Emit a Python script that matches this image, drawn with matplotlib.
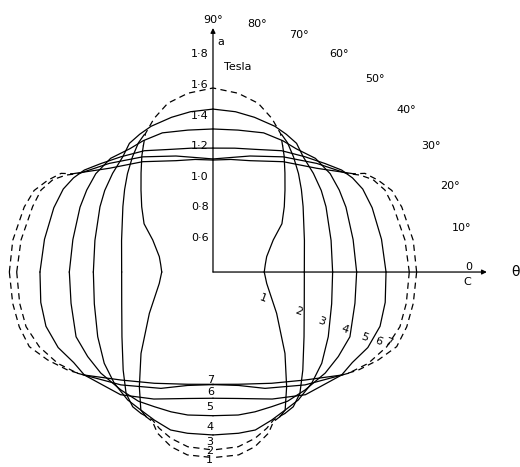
import numpy as np
import matplotlib
matplotlib.use("Agg")
import matplotlib.pyplot as plt

# field (Tesla) against angle theta from the c axis, read per quadrant;
# the left half of the diagram is the mirror image of the right half
top_theta = [
    [0, 8, 16, 28, 35, 42.5, 48.7, 54, 58.5, 61, 64, 69, 75, 82, 90],
    [0, 19, 36, 43, 49, 55, 60, 63.5],
    [0, 15, 30, 37, 44.5, 52, 57, 62, 67, 75, 82, 90],
    [0, 13, 26, 33, 40, 48, 56, 62, 70, 80, 90],
    [0, 11, 22, 29, 34, 38.4, 44, 51.4, 60.5, 71, 80, 90],
    [0, 9.5, 20, 25.5, 30, 33.4, 36.4, 46.3, 58.6, 72.3, 81, 90],
    [0, 9, 19, 24.5, 29, 33, 35, 45, 57.5, 71.6, 81, 90],
]
top_field = [
    [0.735, 0.745, 0.765, 0.846, 0.95, 1.032, 1.113, 1.20, 1.29, 1.34,
     1.407, 1.475, 1.542, 1.58, 1.603],
    [0.997, 1.032, 1.128, 1.19, 1.252, 1.318, 1.375, 1.405],
    [1.182, 1.199, 1.253, 1.286, 1.32, 1.357, 1.403, 1.42, 1.435, 1.447,
     1.458, 1.465],
    [1.339, 1.34, 1.367, 1.384, 1.40, 1.40, 1.372, 1.372, 1.368, 1.342, 1.335],
    [1.531, 1.522, 1.522, 1.519, 1.50, 1.473, 1.42, 1.364, 1.311, 1.248,
     1.222, 1.21],
    [1.683, 1.672, 1.654, 1.645, 1.608, 1.551, 1.486, 1.382, 1.282, 1.196,
     1.158, 1.139],
    [1.731, 1.725, 1.705, 1.685, 1.636, 1.584, 1.52, 1.359, 1.255, 1.167,
     1.145, 1.132],
]

# lower half, angle measured downwards from the c axis
bot_theta = [
    [0, 12, 33, 48.5, 57.3, 62.4, 65.2, 68, 71, 76.5, 82, 90],
    [0, 19, 35.4, 47.5, 54.4, 59.2, 63, 67.8, 71, 75.8, 81.8, 90],
    [0, 15, 29.3, 40, 48.4, 56.3, 62.4, 68.4, 75, 81, 90],
    [0, 12.4, 25.3, 34, 42, 52, 60, 66.5, 73.3, 80, 90],
    [0, 10, 18, 26, 33, 38.7, 53, 65, 79, 90],
    [0, 9.2, 16.3, 23.3, 30.5, 36.8, 50.8, 65.9, 77.3, 90],
    [0, 8.9, 15.8, 22.1, 28, 34, 38.7, 49.6, 62.2, 77.3, 90],
]
bot_field = [
    [0.735, 0.759, 0.896, 1.11, 1.291, 1.418, 1.442, 1.455, 1.514, 1.574,
     1.607, 1.613],
    [0.997, 1.031, 1.13, 1.269, 1.376, 1.425, 1.437, 1.445, 1.48, 1.521,
     1.554, 1.563],
    [1.182, 1.203, 1.264, 1.328, 1.372, 1.405, 1.418, 1.441, 1.469, 1.467,
     1.465],
    [1.339, 1.35, 1.39, 1.388, 1.387, 1.378, 1.375, 1.36, 1.354, 1.349, 1.339],
    [1.531, 1.543, 1.548, 1.526, 1.486, 1.477, 1.404, 1.316, 1.242, 1.225],
    [1.683, 1.68, 1.673, 1.636, 1.577, 1.505, 1.352, 1.233, 1.16, 1.136],
    [1.731, 1.725, 1.716, 1.696, 1.624, 1.546, 1.477, 1.327, 1.222, 1.152,
     1.134],
]

# which end of a curve is drawn dashed: (side, angle where the dashes start)
top_dashed = [("above", 61), None, None, None, None,
              ("below", 36.4), ("below", 35)]
bot_dashed = [("above", 65.2), ("above", 63), None, None, None,
              ("below", 36.8), ("below", 38.7)]

curve_names = ["1", "2", "3", "4", "5", "6", "7"]
axis_ticks = [0.6, 0.8, 1.0, 1.2, 1.4, 1.6, 1.8]
angle_ticks = [90, 80, 70, 60, 50, 40, 30, 20, 10]

# label spots in (deg, Tesla)
side_label_pos = [(-27.6, 0.771), (-24.9, 1.015), (-24.6, 1.181), (-23.5, 1.34),
                  (-23.2, 1.476), (-22.9, 1.573), (-22.0, 1.635)]
bottom_label_field = [1.629, 1.568, 1.509, 1.411, 1.28, 1.186, 1.106]

DASH = (0, (5, 3.5))
LW = 0.9


def pieces(th, b, rule):
    th = np.asarray(th, float)
    b = np.asarray(b, float)
    if rule is None:
        return [(th, b, "-")]
    side, cut = rule
    lo, hi = th <= cut, th >= cut
    if side == "above":
        return [(th[lo], b[lo], "-"), (th[hi], b[hi], DASH)]
    return [(th[lo], b[lo], DASH), (th[hi], b[hi], "-")]


fig = plt.figure(figsize=(5.2, 4.67), dpi=100)
ax = fig.add_axes([-0.12, -0.1722, 1.0592, 1.1794], projection="polar")
ax.set_ylim(0.4, 2.2)
ax.grid(False)
ax.set_xticks([])
ax.set_yticks([])
ax.spines["polar"].set_visible(False)
ax.patch.set_visible(False)

for th, b, rule in zip(top_theta, top_field, top_dashed):
    for t, r, ls in pieces(th, b, rule):
        for ang in (t, 180 - t):
            ax.plot(np.radians(ang), r, color="k", lw=LW, ls=ls, clip_on=False)

for th, b, rule in zip(bot_theta, bot_field, bot_dashed):
    for t, r, ls in pieces(th, b, rule):
        for ang in (-t, 180 + t):
            ax.plot(np.radians(ang), r, color="k", lw=LW, ls=ls, clip_on=False)

# a and c axes
arrow = dict(arrowstyle="-|>", lw=LW, color="k", mutation_scale=7,
             shrinkA=0, shrinkB=0)
ax.annotate("", xy=(np.pi / 2, 1.995), xytext=(np.pi / 2, 0.4),
            arrowprops=arrow, annotation_clip=False)
ax.annotate("", xy=(0, 2.19), xytext=(0, 0.4),
            arrowprops=arrow, annotation_clip=False)

fs = 8
for v in axis_ticks:
    ax.annotate(f"{v:.1f}".replace(".", "·"), xy=(np.pi / 2, v),
                xytext=(-3, 2.5), textcoords="offset points",
                ha="right", va="center", fontsize=fs)

for a in angle_ticks:
    ax.text(np.radians(a), 2.047, f"{a}°", ha="center", va="center",
            fontsize=fs)
ax.text(np.radians(1.2), 2.07, "0", ha="center", va="center", fontsize=fs)
ax.text(np.radians(-2.2), 2.06, "C", ha="center", va="center", fontsize=fs)
ax.text(0, 2.374, "θ", ha="center", va="center", fontsize=10)
ax.text(np.radians(88.1), 1.906, "a", ha="center", va="center", fontsize=fs)
ax.text(np.radians(83), 1.752, "Tesla", ha="center", va="center", fontsize=fs)

for name, (ang, r) in zip(curve_names, side_label_pos):
    ax.text(np.radians(ang), r, name, ha="center", va="center",
            fontsize=fs, rotation=-20)
for name, r in zip(curve_names, bottom_label_field):
    ax.text(np.radians(-91.2), r, name, ha="center", va="center", fontsize=fs)

fig.savefig("out.png", dpi=100, facecolor="white")
